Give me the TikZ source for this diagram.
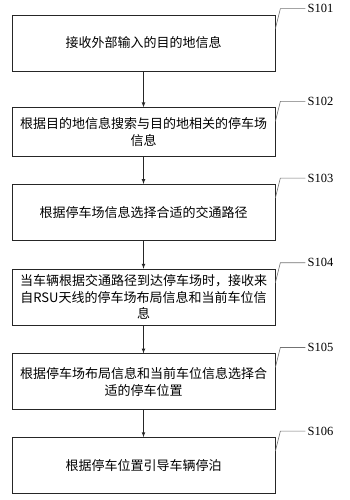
\documentclass[tikz,border=0pt]{standalone}
\usepackage{fontspec}
\setmainfont{Liberation Serif}
\newfontfamily\cjk{Noto Sans CJK SC}
\usetikzlibrary{positioning}
\usetikzlibrary{shapes,arrows}

\begin{document}
\begin{tikzpicture}[
  node distance=28pt,
  every node/.style={font=\cjk\fontsize{13pt}{16.5pt}\selectfont},
  box/.style={draw=black!85, line width=0.7pt, minimum width=263pt, minimum height=56pt, inner sep=2pt, align=center},
  steplabel/.style={font=\fontsize{12.5pt}{14pt}\selectfont, inner sep=2pt, anchor=west},
  leader/.style={draw=black!55, line width=0.6pt},
  >=latex
]
\useasboundingbox (0,0) rectangle (349pt,-500pt);

\node[box] (s1) at (143.5pt,-43pt) {接收外部输入的目的地信息};
\node[box, minimum height=49pt, below=36pt of s1] (s2) {根据目的地信息搜索与目的地相关的停车场\\信息};
\node[box, below=27pt of s2] (s3) {根据停车场信息选择合适的交通路径};
\node[box, below=of s3] (s4) {当车辆根据交通路径到达停车场时，接收来\\自RSU天线的停车场布局信息和当前车位信\\息};
\node[box, below=of s4] (s5) {根据停车场布局信息和当前车位信息选择合\\适的停车位置};
\node[box, below=27pt of s5] (s6) {根据停车位置引导车辆停泊};

\foreach \a/\b in {s1/s2,s2/s3,s3/s4,s4/s5,s5/s6}
  \draw[->, line width=0.7pt, black!85] (\a) -- (\b);

% step numbers
\foreach \n/\s in {s1/S101,s2/S102,s3/S103,s4/S104,s5/S105,s6/S106} {
  \coordinate (\n-k) at ([shift={(5pt,6pt)}]\n.north east);
  \node[steplabel, right=25pt of \n-k] (\n-l) {\s};
  \draw[leader] ([yshift=-14pt]\n.north east) -- (\n-k) -- (\n-l.west);
}
\end{tikzpicture}
\end{document}
